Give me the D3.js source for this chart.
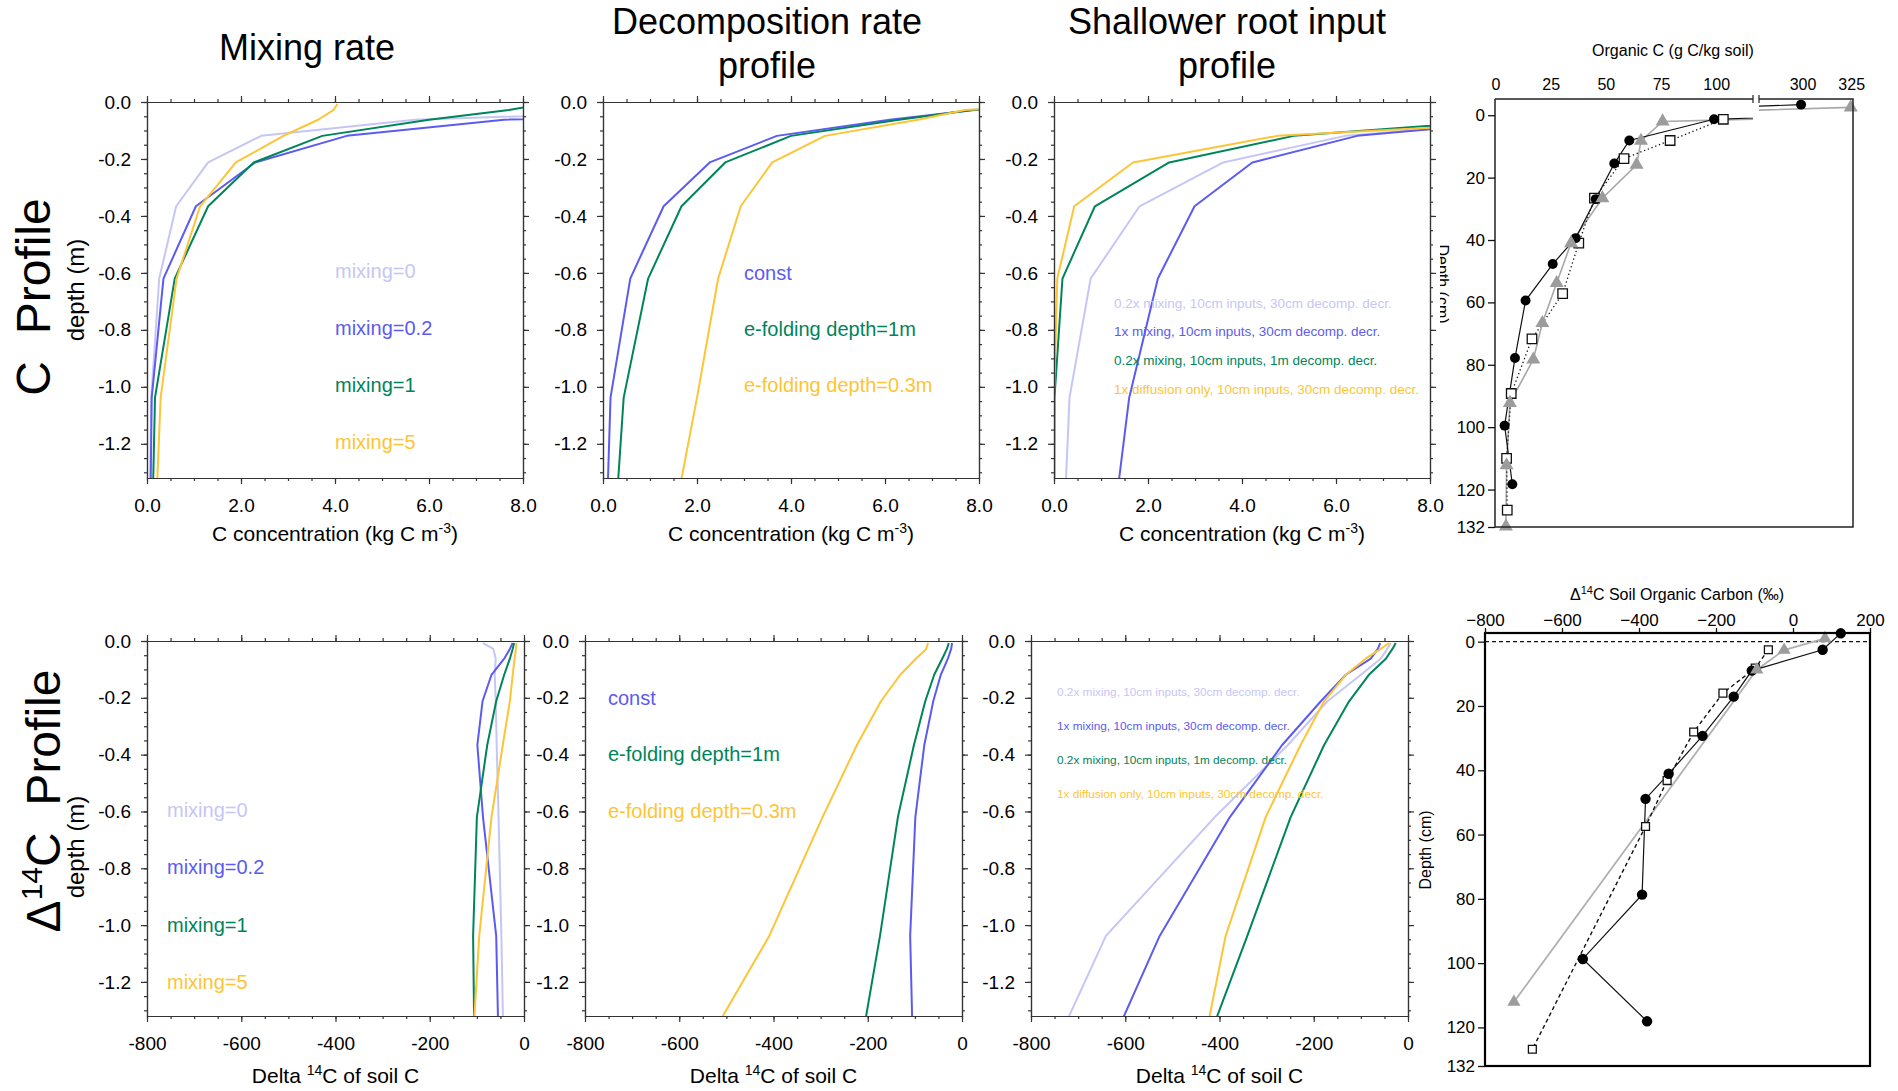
<!DOCTYPE html>
<meta charset="utf-8">
<script src="https://d3js.org/d3.v7.min.js"></script>
<style>
  body { margin: 0; background: #fff; }
  svg { font-family: "Liberation Sans", Arial, Helvetica, sans-serif; }
  .axis path, .axis line { stroke: #333; stroke-width: 1.2; }
  .axis text { font-size: 19px; fill: #000; font-family: "Liberation Sans", Arial, sans-serif; }
  .obs .axis line { stroke: #111; stroke-width: 1.3; }
  .obs .axis text { font-size: 17px; }
</style>
<svg id="chart" width="1898" height="1091"></svg>
<script>
// model layer node depths (m)
var depthNodes = [0.0071, 0.0279, 0.0623, 0.1189, 0.2122, 0.3661, 0.6198, 1.0380, 1.7276];

// C concentration (kg C m-3)
var cMix0  = [20, 12, 5.7, 2.43, 1.30, 0.62, 0.26, 0.09, 0.04];
var cMix02 = [25, 14, 7.6, 4.25, 2.30, 1.04, 0.35, 0.10, 0.05];
var cMix1  = [8.4, 7.7, 6.0, 3.73, 2.27, 1.30, 0.59, 0.17, 0.08];
var cMix5  = [4.05, 3.97, 3.64, 2.90, 1.89, 1.13, 0.63, 0.29, 0.12];

var cDecConst = [10.5, 7.9, 6.1, 3.70, 2.27, 1.29, 0.58, 0.16, 0.03];
var cDecE1m   = [10.5, 7.85, 6.3, 4.00, 2.60, 1.67, 0.96, 0.44, 0.16];
var cDecE03m  = [10, 7.7, 6.7, 4.72, 3.60, 2.93, 2.45, 2.00, 1.20];

var cRoot02Mix  = [30, 20, 10.5, 6.2, 3.60, 1.82, 0.78, 0.33, 0.15];
var cRoot1Mix   = [30, 20, 10.2, 6.45, 4.22, 2.99, 2.21, 1.60, 1.08];
var cRootDec1m  = [30, 20, 9.7, 5.1, 2.45, 0.87, 0.18, 0.01, 0.0];
var cRootDiff   = [30, 20, 11.2, 4.75, 1.68, 0.43, 0.07, 0.0, 0.0];

// Delta 14C of soil C (per mil)
var dMix0  = [-87, -65, -60, -62, -60, -58, -54, -48, -40];
var dMix02 = [-24, -30, -42, -69, -88, -99, -87, -59, -50];
var dMix1  = [-21, -24, -30, -42, -59, -78, -100, -108, -103];
var dMix5  = [-16, -17, -20, -24, -30, -45, -69, -95, -120];

var dDecConst = [-21, -23, -30, -45, -61, -80, -99, -110, -100];
var dDecE1m   = [-28, -32, -42, -59, -78, -102, -136, -174, -246];
var dDecE03m  = [-72, -76, -98, -131, -172, -223, -296, -409, -650];

var dRoot02Mix = [-37, -44, -58, -100, -171, -255, -410, -641, -832];
var dRoot1Mix  = [-59, -64, -79, -132, -185, -267, -378, -527, -712];
var dRootDec1m = [-26, -33, -47, -83, -125, -178, -249, -341, -497];
var dRootDiff  = [-40, -58, -90, -132, -178, -228, -302, -387, -470];

var mixLabels = ["mixing=0", "mixing=0.2", "mixing=1", "mixing=5"];
var decompLabels = ["const", "e-folding depth=1m", "e-folding depth=0.3m"];
var rootLabels = ["0.2x mixing, 10cm inputs, 30cm decomp. decr.",
                  "1x mixing, 10cm inputs, 30cm decomp. decr.",
                  "0.2x mixing, 10cm inputs, 1m decomp. decr.",
                  "1x diffusion only, 10cm inputs, 30cm decomp. decr."];

var depthTicks = [0, -0.2, -0.4, -0.6, -0.8, -1.0, -1.2];
var concTicks = [0, 2, 4, 6, 8];
var deltaTicks = [-800, -600, -400, -200, 0];

// observations: organic C (g C/kg soil)
var orgDepthCircle = [-3.4, 1.3, 8.1, 15.5, 26.9, 39.4, 47.7, 59.4, 77.8, 99.5, 118.3];
var orgCircle      = [299, 98.8, 60.4, 53.6, 45.2, 36.1, 25.7, 13.4, 8.6, 3.9, 7.4];
var orgDepthSquare = [1.3, 8.1, 13.9, 26.6, 41.0, 57.2, 71.7, 89.2, 110, 126.6];
var orgSquare      = [103, 78.9, 58, 44.6, 37.5, 30.2, 16.3, 6.9, 4.8, 5.1];
var orgDepthTri    = [-2.5, 2.0, 8.2, 15.9, 26.6, 41, 53.8, 66.6, 78.3, 92.2, 112.2, 131.8];
var orgTri         = [324.5, 75.5, 65.7, 63.7, 48.2, 34, 27.5, 21, 16.9, 6.3, 4.8, 4.5];
var orgTicksLeft = [0, 25, 50, 75, 100];
var orgTicksRight = [300, 325];

// observations: Delta 14C soil organic carbon (per mil)
var radDepthCircle = [-2.6, 2.5, 9.0, 17.1, 29.3, 41.1, 48.9, 78.7, 98.7, 118.1];
var radCircle      = [124, 77, -107, -154, -235, -323, -383, -392, -546, -379];
var radDepthSquare = [2.5, 8.2, 16.0, 28.1, 43.2, 57.5, 126.8];
var radSquare      = [-64, -98, -182, -258, -327, -383, -677];
var radDepthTri    = [-1.0, 2.6, 8.7, 112.1];
var radTri         = [83, -23, -94, -725];
var radTicks = [-800, -600, -400, -200, 0, 200];
var obsDepthTicks = [0, 20, 40, 60, 80, 100, 120, 132];

var LIGHT = "#c6c6f6", BLUE = "#5b5bf2", GREEN = "#00845a", YELLOW = "#fdc536";

var svg = d3.select("#chart");
var defs = svg.append("defs");

function clip(id, x, y, w, h) {
  defs.append("clipPath").attr("id", id).append("rect")
    .attr("x", x).attr("y", y).attr("width", w).attr("height", h);
  return "url(#" + id + ")";
}

function axis(g, gen, tr, vals, size, fmt, pad) {
  g.append("g").attr("class", "axis").attr("transform", tr)
    .call(gen.tickValues(vals).tickSize(size).tickSizeOuter(0)
      .tickPadding(pad || 3).tickFormat(fmt || function () { return ""; }));
}

function modelPanel(c) {
  var x = d3.scaleLinear().domain(c.xDomain).range([c.left, c.left + c.w]);
  var y = d3.scaleLinear().domain([0, -1.32]).range([c.top, c.top + c.h]);
  var g = svg.append("g");
  var line = d3.line().x(function (d) { return x(d[0]); }).y(function (d) { return y(-d[1]); });

  g.append("g").attr("clip-path", clip("clip-" + c.id, c.left, c.top, c.w, c.h))
    .selectAll("path").data(c.series).join("path")
    .attr("d", function (s) { return line(s.map(function (v, i) { return [v, depthNodes[i]]; })); })
    .attr("fill", "none")
    .attr("stroke", function (s, i) { return c.colors[i]; })
    .attr("stroke-width", 2)
    .attr("stroke-linejoin", "round");

  var xMinor = d3.range(c.xDomain[0], c.xDomain[1] + 1e-9, c.xMinorStep);
  var yMinor = d3.range(0, 27).map(function (i) { return -i * 0.05; });
  var b = c.top + c.h, r = c.left + c.w;
  axis(g, d3.axisBottom(x), "translate(0," + b + ")", xMinor, 3);
  axis(g, d3.axisBottom(x), "translate(0," + b + ")", c.xMajor, 6, c.fmt, 15);
  axis(g, d3.axisTop(x), "translate(0," + c.top + ")", xMinor, 3);
  axis(g, d3.axisTop(x), "translate(0," + c.top + ")", c.xMajor, 6);
  axis(g, d3.axisLeft(y), "translate(" + c.left + ",0)", yMinor, 3);
  axis(g, d3.axisLeft(y), "translate(" + c.left + ",0)", depthTicks, 6, function (d) { return d.toFixed(1); }, 10);
  axis(g, d3.axisRight(y), "translate(" + r + ",0)", yMinor, 3);
  axis(g, d3.axisRight(y), "translate(" + r + ",0)", depthTicks, 6);

  g.selectAll("text.legend").data(c.labels).join("text")
    .attr("class", "legend")
    .attr("x", c.lx)
    .attr("y", function (d, i) { return c.ly[i]; })
    .attr("dy", "0.35em")
    .style("font-size", c.lfs + "px")
    .attr("fill", function (d, i) { return c.colors[i]; })
    .text(function (d) { return d; });

  // axis title
  var t = g.append("text").attr("x", c.left + c.w / 2).attr("y", b + c.titleGap)
    .attr("text-anchor", "middle").style("font-size", "21px");
  if (c.xDomain[1] > 0) {
    t.append("tspan").text("C concentration (kg C m");
    t.append("tspan").attr("dy", -8).style("font-size", "14px").text("-3");
    t.append("tspan").attr("dy", 8).text(")");
  } else {
    t.append("tspan").text("Delta ");
    t.append("tspan").attr("dy", -8).style("font-size", "14px").text("14");
    t.append("tspan").attr("dy", 8).text("C of soil C");
  }
}

var row1 = { top: 102, h: 376, w: 376, xDomain: [0, 8], xMajor: concTicks, xMinorStep: 0.5, titleGap: 63,
  fmt: function (d) { return d.toFixed(1); } };
var row2 = { top: 641, h: 375, w: 377, xDomain: [-800, 0], xMajor: deltaTicks, xMinorStep: 50, titleGap: 67,
  fmt: function (d) { return String(d); } };

modelPanel(Object.assign({}, row1, { id: "p1", left: 147, series: [cMix0, cMix02, cMix1, cMix5],
  colors: [LIGHT, BLUE, GREEN, YELLOW], labels: mixLabels, lx: 335, ly: [271, 328, 385, 442], lfs: 20 }));
modelPanel(Object.assign({}, row1, { id: "p2", left: 603, series: [cDecConst, cDecE1m, cDecE03m],
  colors: [BLUE, GREEN, YELLOW], labels: decompLabels, lx: 744, ly: [273, 329, 385], lfs: 20 }));
modelPanel(Object.assign({}, row1, { id: "p3", left: 1054, series: [cRoot02Mix, cRoot1Mix, cRootDec1m, cRootDiff],
  colors: [LIGHT, BLUE, GREEN, YELLOW], labels: rootLabels, lx: 1114, ly: [303, 331, 360, 389], lfs: 13.5 }));
modelPanel(Object.assign({}, row2, { id: "p5", left: 147, series: [dMix0, dMix02, dMix1, dMix5],
  colors: [LIGHT, BLUE, GREEN, YELLOW], labels: mixLabels, lx: 167, ly: [810, 867, 925, 982], lfs: 20 }));
modelPanel(Object.assign({}, row2, { id: "p6", left: 585, series: [dDecConst, dDecE1m, dDecE03m],
  colors: [BLUE, GREEN, YELLOW], labels: decompLabels, lx: 608, ly: [698, 754, 811], lfs: 20 }));
modelPanel(Object.assign({}, row2, { id: "p7", left: 1031, series: [dRoot02Mix, dRoot1Mix, dRootDec1m, dRootDiff],
  colors: [LIGHT, BLUE, GREEN, YELLOW], labels: rootLabels, lx: 1057, ly: [692, 726, 760, 794], lfs: 11.8 }));

// column titles
function title(x, lines, y0) {
  var t = svg.append("text").attr("text-anchor", "middle").style("font-size", "36px");
  lines.forEach(function (s, i) { t.append("tspan").attr("x", x).attr("y", y0 + i * 44).text(s); });
}
title(307, ["Mixing rate"], 60);
title(767, ["Decomposition rate", "profile"], 34);
title(1227, ["Shallower root input", "profile"], 34);

// row titles
svg.append("text").attr("transform", "translate(50,297) rotate(-90)")
  .attr("text-anchor", "middle").style("font-size", "48px").style("white-space", "pre")
  .text("C  Profile");
var rt = svg.append("text").attr("transform", "translate(60,801) rotate(-90)")
  .attr("text-anchor", "middle").style("font-size", "48px").style("white-space", "pre");
rt.append("tspan").text("\u0394");
rt.append("tspan").attr("dy", -18).style("font-size", "30px").text("14");
rt.append("tspan").attr("dy", 18).text("C  Profile");

[[84, 290], [84, 847]].forEach(function (p) {
  svg.append("text").attr("transform", "translate(" + p[0] + "," + p[1] + ") rotate(-90)")
    .attr("text-anchor", "middle").style("font-size", "24px").text("depth (m)");
});

// ---------- observed organic C (broken x axis) ----------
var xL = d3.scaleLinear().domain([0, 100]).range([1496, 1716.7]);
var xR = d3.scaleLinear().domain([300, 325]).range([1803, 1851.7]);
var yOrg = d3.scaleLinear().domain([-5.2, 132]).range([99, 527]);
var brkL = 1753, brkR = 1759;
var og = svg.append("g").attr("class", "obs");

function pairs(vals, depths) { return vals.map(function (v, i) { return [v, depths[i]]; }); }
var orgSets = [
  { v: orgTri, d: orgDepthTri, stroke: "#a8a8a8", dash: null, w: 1.6 },
  { v: orgSquare, d: orgDepthSquare, stroke: "#111", dash: "1.3,2.7", w: 1.3 },
  { v: orgCircle, d: orgDepthCircle, stroke: "#111", dash: null, w: 1.2 }
];
[["orgL", xL, 1495, brkL - 1495], ["orgR", xR, brkR, 1853 - brkR]].forEach(function (part) {
  var ln = d3.line().x(function (d) { return part[1](d[0]); }).y(function (d) { return yOrg(d[1]); });
  og.append("g").attr("clip-path", clip(part[0], part[2], 99, part[3], 428))
    .selectAll("path").data(orgSets).join("path")
    .attr("d", function (s) { return ln(pairs(s.v, s.d)); })
    .attr("fill", "none").attr("stroke", function (s) { return s.stroke; })
    .attr("stroke-width", function (s) { return s.w; })
    .attr("stroke-dasharray", function (s) { return s.dash; });
});
function orgX(v) { return v > 200 ? xR(v) : xL(v); }

function markers(g, data, xf, yf, kind, size) {
  var sel = g.append("g").selectAll("path").data(data).join("path")
    .attr("transform", function (d) { return "translate(" + xf(d[0]) + "," + yf(d[1]) + ")"; });
  if (kind === "square") {
    sel.attr("d", d3.symbol().type(d3.symbolSquare).size(size)).attr("fill", "#fff")
      .attr("stroke", "#111").attr("stroke-width", 1.3);
  } else if (kind === "circle") {
    sel.attr("d", d3.symbol().type(d3.symbolCircle).size(size)).attr("fill", "#000").attr("stroke", "none");
  } else {
    sel.attr("d", d3.symbol().type(d3.symbolTriangle).size(size)).attr("fill", "#9c9c9c").attr("stroke", "none");
  }
}
markers(og, pairs(orgSquare, orgDepthSquare), orgX, yOrg, "square", 90);
markers(og, pairs(orgCircle, orgDepthCircle), orgX, yOrg, "circle", 78);
markers(og, pairs(orgTri, orgDepthTri), orgX, yOrg, "tri", 85);

// frame with break
og.append("path").attr("fill", "none").attr("stroke", "#222").attr("stroke-width", 1.5)
  .attr("d", "M1495,99V527H1853V99H" + brkR + "M" + brkL + ",99H1495");
og.append("path").attr("fill", "none").attr("stroke", "#222").attr("stroke-width", 1.2)
  .attr("d", "M" + brkL + ",95V103M" + brkR + ",95V103");
axis(og, d3.axisLeft(yOrg), "translate(1495,0)", obsDepthTicks, 7, String, 3);
og.selectAll(".axis path.domain").remove();
og.selectAll("text.xl").data(orgTicksLeft.map(function (v) { return [v, xL(v)]; })
  .concat(orgTicksRight.map(function (v) { return [v, xR(v)]; }))).join("text")
  .attr("x", function (d) { return d[1]; }).attr("y", 90).attr("text-anchor", "middle")
  .style("font-size", "16px").text(function (d) { return d[0]; });
og.append("text").attr("x", 1673).attr("y", 56).attr("text-anchor", "middle")
  .style("font-size", "16px").text("Organic C (g C/kg soil)");
svg.append("g").attr("clip-path", clip("depthcut", 1440, 200, 20, 150))
  .append("text").attr("transform", "translate(1437,284) rotate(90)")
  .attr("text-anchor", "middle").style("font-size", "16px").text("Depth (cm)");

// ---------- observed Delta 14C ----------
var xRad = d3.scaleLinear().domain([-800, 200]).range([1485, 1870]);
var yRad = d3.scaleLinear().domain([-2.7, 132]).range([633, 1066]);
var rg = svg.append("g").attr("class", "obs");
rg.append("line").attr("x1", 1485).attr("x2", 1870).attr("y1", yRad(0)).attr("y2", yRad(0))
  .attr("stroke", "#111").attr("stroke-width", 1.2).attr("stroke-dasharray", "4,3");
var radSets = [
  { v: radTri, d: radDepthTri, stroke: "#b0b0b0", dash: null, w: 1.8 },
  { v: radSquare, d: radDepthSquare, stroke: "#111", dash: "4,3", w: 1.4 },
  { v: radCircle, d: radDepthCircle, stroke: "#111", dash: null, w: 1.2 }
];
var lnRad = d3.line().x(function (d) { return xRad(d[0]); }).y(function (d) { return yRad(d[1]); });
rg.append("g").selectAll("path").data(radSets).join("path")
  .attr("d", function (s) { return lnRad(pairs(s.v, s.d)); })
  .attr("fill", "none").attr("stroke", function (s) { return s.stroke; })
  .attr("stroke-width", function (s) { return s.w; })
  .attr("stroke-dasharray", function (s) { return s.dash; });
markers(rg, pairs(radSquare, radDepthSquare), xRad, yRad, "square", 62);
markers(rg, pairs(radCircle, radDepthCircle), xRad, yRad, "circle", 85);
markers(rg, pairs(radTri, radDepthTri), xRad, yRad, "tri", 75);
rg.append("rect").attr("x", 1485).attr("y", 633).attr("width", 385).attr("height", 433)
  .attr("fill", "none").attr("stroke", "#000").attr("stroke-width", 2.2);
axis(rg, d3.axisTop(xRad), "translate(0,633)", radTicks, 5, d3.format("d"), 2);
axis(rg, d3.axisLeft(yRad), "translate(1485,0)", obsDepthTicks, 7, String, 3);
rg.selectAll(".axis path.domain").remove();
var rtl = rg.append("text").attr("x", 1677).attr("y", 600).attr("text-anchor", "middle").style("font-size", "16px");
rtl.append("tspan").text("\u0394");
rtl.append("tspan").attr("dy", -6).style("font-size", "11px").text("14");
rtl.append("tspan").attr("dy", 6).text("C Soil Organic Carbon (\u2030)");
svg.append("text").attr("transform", "translate(1431,850) rotate(-90)")
  .attr("text-anchor", "middle").style("font-size", "16px").text("Depth (cm)");
</script>
